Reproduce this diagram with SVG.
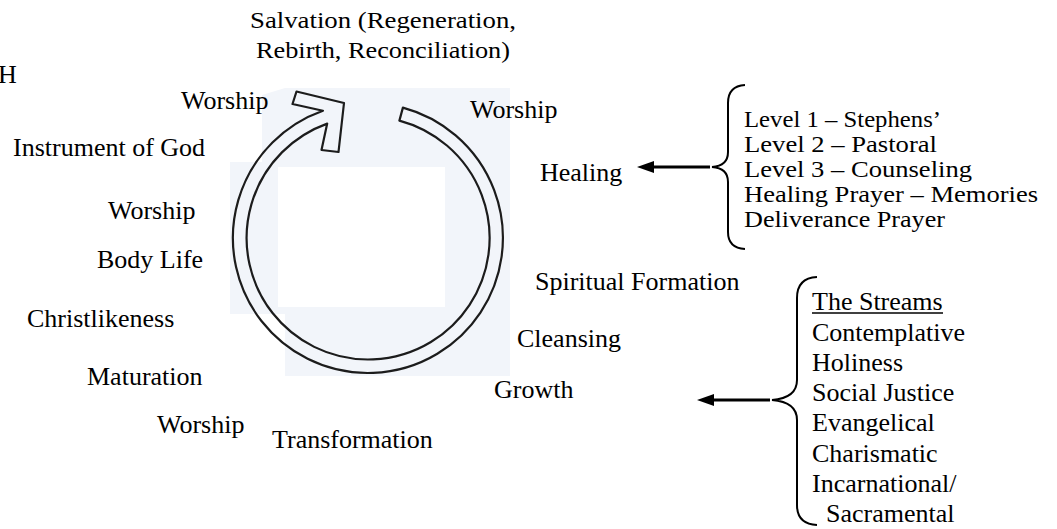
<svg xmlns="http://www.w3.org/2000/svg" width="1057" height="529" viewBox="0 0 1057 529">
  <style>
    .t { font-family: "Liberation Serif", "Times New Roman", serif; font-size: 26px; fill: #000; }
    .ts { font-family: "Liberation Serif", "Times New Roman", serif; font-size: 24px; fill: #000; }
    .tl { font-family: "Liberation Serif", "Times New Roman", serif; font-size: 23.5px; fill: #000; }
    .ring { fill: none; stroke: #1c1c1c; stroke-width: 2.2; stroke-linejoin: round; }
    .ln { fill: none; stroke: #000; stroke-width: 3; }
    .br { fill: none; stroke: #000; stroke-width: 2; }
  </style>
  <defs>
    <marker id="ah" markerUnits="userSpaceOnUse" markerWidth="17" markerHeight="12" refX="2" refY="6" orient="auto">
      <path d="M0,0 L17,6 L0,12 Z" fill="#000"/>
    </marker>
  </defs>
  <rect width="1057" height="529" fill="#fff"/>

  <g id="scan-background">
    <path d="M262,95 L285,88 L510,88 L510,376 L285,376 L285,314 L230,314 L230,162 L262,162 Z" fill="#f2f5fa"/>
    <rect x="278" y="167" width="167" height="140" fill="#fff"/>
  </g>

  <g id="cycle">
    <path class="ring" d="M322.9,110.7 A135,135 0 1 0 402.9,107.6 L399.4,120.6 A121.5,121.5 0 1 1 327.2,123.6 L321.5,150 L338.5,152 L344,103 L296.5,91.5 L292.5,104 Z"/>
  </g>

  <g id="salvation">
    <text class="ts" x="383" y="28" text-anchor="middle" textLength="266" lengthAdjust="spacingAndGlyphs">Salvation (Regeneration,</text>
    <text class="ts" x="383" y="58" text-anchor="middle" textLength="254" lengthAdjust="spacingAndGlyphs">Rebirth, Reconciliation)</text>
  </g>
  <g id="h"><text class="t" x="-2" y="83">H</text></g>
  <g id="worship-1"><text class="t" x="181" y="109">Worship</text></g>
  <g id="worship-2"><text class="t" x="470" y="118">Worship</text></g>
  <g id="instrument"><text class="t" x="13" y="156">Instrument of God</text></g>
  <g id="worship-3"><text class="t" x="108" y="219">Worship</text></g>
  <g id="body-life"><text class="t" x="97" y="268">Body Life</text></g>
  <g id="christlikeness"><text class="t" x="27" y="327">Christlikeness</text></g>
  <g id="maturation"><text class="t" x="87" y="385">Maturation</text></g>
  <g id="worship-4"><text class="t" x="157" y="433">Worship</text></g>
  <g id="transformation"><text class="t" x="272" y="448">Transformation</text></g>
  <g id="growth"><text class="t" x="494" y="398">Growth</text></g>
  <g id="cleansing"><text class="t" x="517" y="347">Cleansing</text></g>
  <g id="spiritual-formation"><text class="t" x="535" y="290">Spiritual Formation</text></g>
  <g id="healing"><text class="t" x="540" y="181">Healing</text></g>

  <g id="healing-list">
    <text class="tl" x="744" y="127" textLength="197" lengthAdjust="spacingAndGlyphs">Level 1 – Stephens’</text>
    <text class="tl" x="744" y="152" textLength="193" lengthAdjust="spacingAndGlyphs">Level 2 – Pastoral</text>
    <text class="tl" x="744" y="177" textLength="228" lengthAdjust="spacingAndGlyphs">Level 3 – Counseling</text>
    <text class="tl" x="744" y="202" textLength="294" lengthAdjust="spacingAndGlyphs">Healing Prayer – Memories</text>
    <text class="tl" x="744" y="227" textLength="201" lengthAdjust="spacingAndGlyphs">Deliverance Prayer</text>
  </g>

  <g id="streams-list">
    <text class="t" x="812" y="310">The Streams</text>
    <line x1="812" y1="313" x2="943" y2="313" stroke="#000" stroke-width="1.3"/>
    <text class="t" x="812" y="341">Contemplative</text>
    <text class="t" x="812" y="371">Holiness</text>
    <text class="t" x="812" y="401">Social Justice</text>
    <text class="t" x="812" y="431">Evangelical</text>
    <text class="t" x="812" y="462">Charismatic</text>
    <text class="t" x="812" y="492">Incarnational/</text>
    <text class="t" x="826" y="522">Sacramental</text>
  </g>

  <g id="connectors">
    <path class="br" d="M745,85 Q728,86 728,103 L728,152 Q728,166 712,167 Q728,168 728,182 L728,232 Q728,248 745,249"/>
    <line class="ln" x1="710" y1="167" x2="652" y2="167" marker-end="url(#ah)"/>
    <path class="br" d="M817,277 Q797,278 797,298 L797,380 Q797,398 772,400 Q797,402 797,420 L797,505 Q797,524 817,525"/>
    <line class="ln" x1="770" y1="400" x2="712" y2="400" marker-end="url(#ah)"/>
  </g>
</svg>
